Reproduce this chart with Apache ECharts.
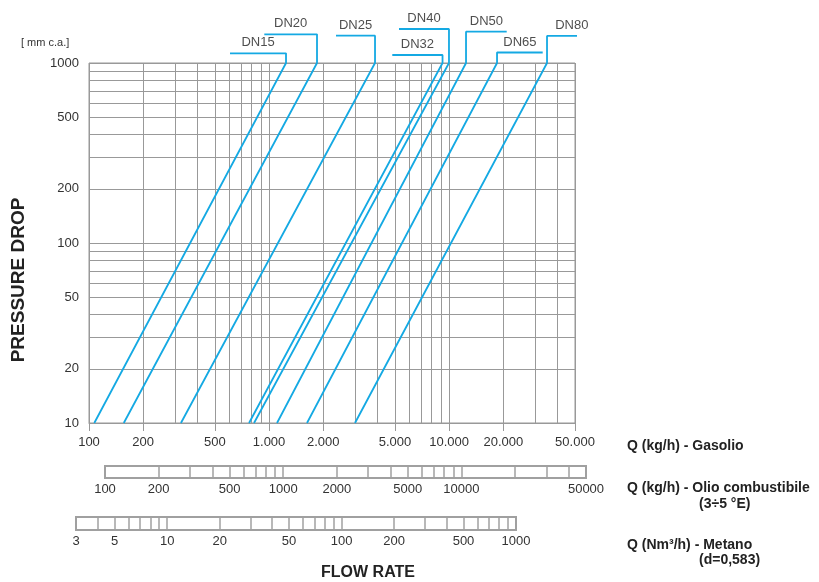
<!DOCTYPE html>
<html><head><meta charset="utf-8">
<script src="https://cdn.jsdelivr.net/npm/echarts@6/dist/echarts.min.js"></script>
<style>html,body{margin:0;padding:0;background:#fff}#c{width:819px;height:582px}</style>
</head><body><div id="c"></div>
<script>
// ---- data ----
const dnNames      = ['DN15','DN20','DN25','DN32','DN40','DN50','DN65','DN80'];
const flowAt10mm   = [107, 156, 324, 774, 825, 1107, 1624, 3000];        // kg/h gasolio at 10 mm c.a.
const flowAt1000mm = [1242, 1846, 3876, 9190, 9980, 12410, 18450, 34960]; // kg/h gasolio at 1000 mm c.a.
const tagLevel     = [1132, 1444, 1418, 1108, 1545, 1492, 1144, 1413];   // height of the name leader
const tagEnd       = [607, 941, 2353, 4834, 5267, 20880, 33080, 65980];   // far end of the name leader

const gasolioTicks  = [100, 200, 500, 1000, 2000, 5000, 10000, 20000, 50000];
const gasolioLabels = ['100','200','500','1.000','2.000','5.000','10.000','20.000','50.000'];
const pressureTicks  = [10, 20, 50, 100, 200, 500, 1000];
const pressureLabels = ['10','20','50','100','200','500','1000'];
const oilTicks  = [100, 200, 500, 1000, 2000, 5000, 10000, 50000];
const oilLabels = ['100','200','500','1000','2000','5000','10000','50000'];
const gasTicks  = [3, 5, 10, 20, 50, 100, 200, 500, 1000];
const gasLabels = ['3','5','10','20','50','100','200','500','1000'];

// ---- helpers ----
function logGrid(min, max) {
  const out = [];
  for (let d = Math.pow(10, Math.floor(Math.log10(min))); d <= max; d *= 10) {
    for (let m = 1; m <= 9; m++) {
      const v = m * d;
      if (v >= min - 1e-9 && v <= max + 1e-9) out.push(v);
    }
  }
  return out;
}
function fmt(ticks, labels) {
  return function (v) {
    for (let i = 0; i < ticks.length; i++) {
      if (Math.abs(Math.log10(v / ticks[i])) < 1e-6) return labels[i];
    }
    return '';
  };
}
const FONT = 'Liberation Sans, Arial, Helvetica, sans-serif';
const GRIDC = '#999';
const BLUE = '#14a9e3';

const chart = echarts.init(document.getElementById('c'), null, {renderer: 'canvas'});

const lineSeries = dnNames.map((n, i) => ({
  type: 'line', name: n, xAxisIndex: 0, yAxisIndex: 0, clip: false,
  symbol: 'none', silent: true, animation: false,
  lineStyle: {color: BLUE, width: 1.8},
  data: [[flowAt10mm[i], 10], [flowAt1000mm[i], 1000], [flowAt1000mm[i], tagLevel[i]], [tagEnd[i], tagLevel[i]]]
}));

const labelSeries = {
  type: 'scatter', xAxisIndex: 0, yAxisIndex: 0, clip: false, symbolSize: 0,
  silent: true, animation: false,
  label: {show: true, formatter: '{b}', position: 'top', distance: 4,
          fontFamily: FONT, fontSize: 13, color: '#222'},
  data: dnNames.map((n, i) => ({name: n, value: [Math.sqrt(flowAt1000mm[i] * tagEnd[i]), tagLevel[i]]}))
};

const option = {
  backgroundColor: '#fff',
  animation: false,
  textStyle: {fontFamily: FONT},
  grid: [
    {left: 89, top: 63, width: 486, height: 360, show: true, borderColor: GRIDC, borderWidth: 1},
    {left: 105, top: 466, width: 481, height: 12, show: true, borderColor: '#a0a0a0', borderWidth: 2},
    {left: 76, top: 517, width: 440, height: 13, show: true, borderColor: '#a0a0a0', borderWidth: 2}
  ],
  xAxis: [
    {type: 'log', gridIndex: 0, min: 100, max: 50000, position: 'bottom',
     axisLine: {show: true, lineStyle: {color: GRIDC, width: 1}},
     axisTick: {show: true, length: 8, customValues: gasolioTicks, lineStyle: {color: GRIDC, width: 1}},
     axisLabel: {customValues: gasolioTicks, formatter: fmt(gasolioTicks, gasolioLabels), margin: 13,
                 fontSize: 13, color: '#333', fontFamily: FONT},
     splitLine: {show: false}},
    {type: 'log', gridIndex: 0, min: 100, max: 50000, position: 'top',
     axisLine: {show: false}, axisLabel: {show: false},
     axisTick: {show: false, customValues: logGrid(100, 50000)},
     splitLine: {show: true, lineStyle: {color: GRIDC, width: 1}}},
    {type: 'log', gridIndex: 1, min: 100, max: 50000,
     axisLine: {show: false},
     axisTick: {show: false, customValues: logGrid(100, 50000)},
     axisLabel: {customValues: oilTicks, formatter: fmt(oilTicks, oilLabels), margin: 5,
                 fontSize: 13, color: '#333', fontFamily: FONT},
     splitLine: {show: true, lineStyle: {color: '#a0a0a0', width: 1.5}}},
    {type: 'log', gridIndex: 2, min: 3, max: 1000,
     axisLine: {show: false},
     axisTick: {show: false, customValues: logGrid(3, 1000)},
     axisLabel: {customValues: gasTicks, formatter: fmt(gasTicks, gasLabels), margin: 5,
                 fontSize: 13, color: '#333', fontFamily: FONT},
     splitLine: {show: true, lineStyle: {color: '#a0a0a0', width: 1.5}}}
  ],
  yAxis: [
    {type: 'log', gridIndex: 0, min: 10, max: 1000,
     axisLine: {show: false},
     axisTick: {show: false, customValues: logGrid(10, 1000)},
     axisLabel: {customValues: pressureTicks, formatter: fmt(pressureTicks, pressureLabels), margin: 10,
                 fontSize: 13, color: '#333', fontFamily: FONT},
     splitLine: {show: true, lineStyle: {color: GRIDC, width: 1}}},
    {type: 'value', gridIndex: 1, min: 0, max: 1, show: false},
    {type: 'value', gridIndex: 2, min: 0, max: 1, show: false}
  ],
  graphic: [
    {type: 'text', x: 21, y: 43, style: {text: '[ mm c.a.]', fontSize: 11, fontFamily: FONT, fill: '#333', align: 'left', verticalAlign: 'middle'}},
    {type: 'text', x: 19, y: 280, rotation: Math.PI / 2, style: {text: 'PRESSURE DROP', fontSize: 19, fontWeight: 'bold', fontFamily: FONT, fill: '#222', align: 'center', verticalAlign: 'middle'}},
    {type: 'text', x: 368, y: 573, style: {text: 'FLOW RATE', fontSize: 16, fontWeight: 'bold', fontFamily: FONT, fill: '#222', align: 'center', verticalAlign: 'middle'}},
    {type: 'text', x: 627, y: 446, style: {text: 'Q (kg/h) - Gasolio', fontSize: 14, fontWeight: 'bold', fontFamily: FONT, fill: '#222', align: 'left', verticalAlign: 'middle'}},
    {type: 'text', x: 627, y: 488, style: {text: 'Q (kg/h) - Olio combustibile', fontSize: 14, fontWeight: 'bold', fontFamily: FONT, fill: '#222', align: 'left', verticalAlign: 'middle'}},
    {type: 'text', x: 699, y: 504, style: {text: '(3÷5 °E)', fontSize: 14, fontWeight: 'bold', fontFamily: FONT, fill: '#222', align: 'left', verticalAlign: 'middle'}},
    {type: 'text', x: 627, y: 545, style: {text: 'Q (Nm³/h) - Metano', fontSize: 14, fontWeight: 'bold', fontFamily: FONT, fill: '#222', align: 'left', verticalAlign: 'middle'}},
    {type: 'text', x: 699, y: 560, style: {text: '(d=0,583)', fontSize: 14, fontWeight: 'bold', fontFamily: FONT, fill: '#222', align: 'left', verticalAlign: 'middle'}}
  ],
  series: lineSeries.concat([labelSeries])
};
chart.setOption(option);
</script>
</body></html>
